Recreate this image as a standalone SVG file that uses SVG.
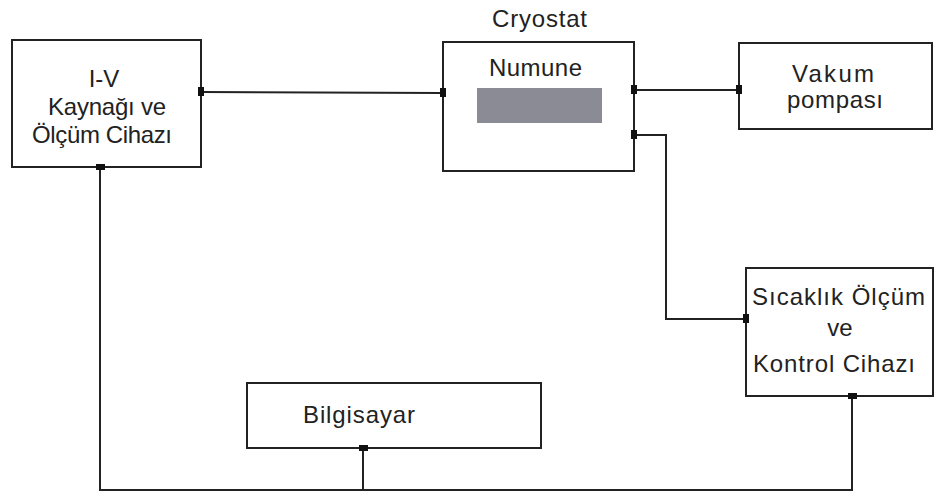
<svg xmlns="http://www.w3.org/2000/svg" width="935" height="493" viewBox="0 0 935 493">
<style>
.box{fill:#fff;stroke:#222;stroke-width:2}
.ln{fill:none;stroke:#222;stroke-width:2}
.pt{fill:#111}
text{font-family:"Liberation Sans",Arial,sans-serif;font-size:24px;fill:#222}
.c{text-anchor:middle}
</style>
<rect width="935" height="493" fill="#fff"/>
<g id="connectors">
<polyline class="ln" points="201,92 443,93"/>
<polyline class="ln" points="634,90 739,90"/>
<polyline class="ln" points="634,135 666,135 666,319 746,319"/>
<polyline class="ln" points="100,167 100,490 852,490 852,396"/>
<polyline class="ln" points="363,448 363,490"/>
</g>
<g id="iv">
<rect class="box" x="12" y="40" width="189" height="127"/>
<text class="c" x="104" y="87">I-V</text>
<text x="48" y="115" textLength="118">Kaynağı ve</text>
<text x="32" y="143" textLength="140">Ölçüm Cihazı</text>
<rect class="pt" x="198" y="87" width="6" height="9"/>
<rect class="pt" x="96" y="164" width="9" height="6"/>
</g>
<g id="cryostat">
<text x="492" y="27" textLength="95">Cryostat</text>
<rect class="box" x="443" y="42" width="191" height="129"/>
<text x="489" y="76" textLength="93">Numune</text>
<rect x="477" y="88" width="125" height="35" fill="#8b8b95"/>
<rect class="pt" x="440" y="88" width="6" height="9"/>
<rect class="pt" x="631" y="85" width="6" height="9"/>
<rect class="pt" x="631" y="130" width="6" height="9"/>
</g>
<g id="vakum">
<rect class="box" x="739" y="43" width="193" height="86"/>
<text x="792" y="82" textLength="82">Vakum</text>
<text x="787" y="108" textLength="96">pompası</text>
<rect class="pt" x="736" y="85" width="6" height="9"/>
</g>
<g id="sicaklik">
<rect class="box" x="746" y="268" width="187" height="128"/>
<text x="752" y="305" textLength="173">Sıcaklık Ölçüm</text>
<text class="c" x="840" y="336">ve</text>
<text x="753" y="372" textLength="162">Kontrol Cihazı</text>
<rect class="pt" x="743" y="314" width="6" height="9"/>
<rect class="pt" x="848" y="393" width="9" height="6"/>
</g>
<g id="bilgisayar">
<rect class="box" x="247" y="383" width="294" height="65"/>
<text x="303" y="423" textLength="112">Bilgisayar</text>
<rect class="pt" x="359" y="445" width="9" height="6"/>
</g>
</svg>
